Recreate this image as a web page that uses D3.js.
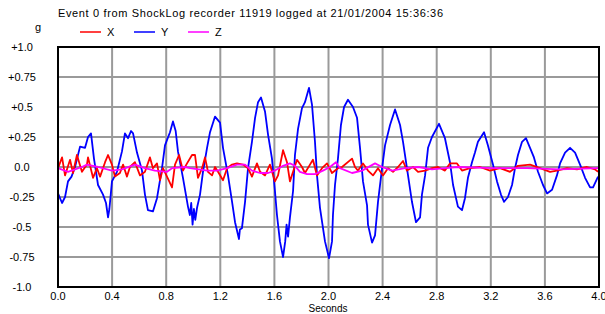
<!DOCTYPE html>
<html>
<head>
  <title>ShockLog event</title>
  <script src="https://d3js.org/d3.v7.min.js"></script>
  <style>
    body { margin: 0; background: #fff; }
    text { font-family: Arial, "Liberation Sans", sans-serif; font-size: 11px; fill: #000; }
  </style>
</head>
<body>
  <svg width="605" height="314" id="mainsvg"></svg>
  <script>
    // data (seconds, g)
    const yTimes = [0.000,0.030,0.052,0.074,0.100,0.126,0.163,0.200,0.222,0.244,0.266,0.296,0.333,0.355,0.370,0.380,0.399,0.436,0.473,0.495,0.518,0.540,0.555,0.584,0.621,0.643,0.665,0.702,0.732,0.769,0.791,0.828,0.850,0.870,0.887,0.924,0.961,0.975,0.985,0.995,1.005,1.015,1.028,1.050,1.072,1.102,1.124,1.161,1.198,1.220,1.257,1.287,1.309,1.338,1.345,1.360,1.383,1.405,1.434,1.457,1.479,1.501,1.531,1.553,1.582,1.604,1.619,1.641,1.664,1.680,1.690,1.701,1.715,1.738,1.752,1.775,1.804,1.826,1.856,1.878,1.900,1.915,1.937,1.974,2.004,2.026,2.033,2.048,2.070,2.092,2.115,2.144,2.181,2.211,2.233,2.255,2.285,2.292,2.322,2.344,2.366,2.396,2.418,2.455,2.492,2.529,2.551,2.588,2.617,2.647,2.677,2.691,2.714,2.736,2.765,2.817,2.861,2.898,2.921,2.957,2.987,3.009,3.031,3.061,3.083,3.105,3.150,3.179,3.216,3.246,3.275,3.298,3.327,3.357,3.379,3.401,3.431,3.460,3.490,3.519,3.549,3.586,3.616,3.653,3.689,3.712,3.749,3.786,3.823,3.860,3.897,3.934,3.956,3.993];
    const yValues = [-0.22,-0.30,-0.25,-0.12,-0.08,0.00,0.17,0.16,0.25,0.28,0.07,-0.15,-0.23,-0.30,-0.42,-0.35,-0.12,-0.04,0.13,0.28,0.24,0.30,0.28,0.12,-0.03,-0.23,-0.36,-0.37,-0.26,-0.01,0.18,0.29,0.38,0.30,0.13,-0.09,-0.33,-0.40,-0.30,-0.48,-0.35,-0.44,-0.34,-0.23,-0.04,0.16,0.29,0.42,0.37,0.16,-0.07,-0.29,-0.46,-0.60,-0.52,-0.51,-0.29,-0.01,0.21,0.41,0.54,0.58,0.46,0.27,0.07,-0.20,-0.40,-0.62,-0.75,-0.62,-0.48,-0.58,-0.42,-0.20,0.10,0.32,0.49,0.54,0.66,0.52,0.21,-0.07,-0.34,-0.62,-0.76,-0.62,-0.40,-0.15,0.07,0.35,0.50,0.56,0.50,0.41,0.16,-0.12,-0.32,-0.48,-0.63,-0.57,-0.29,-0.01,0.18,0.35,0.48,0.35,0.21,-0.07,-0.29,-0.46,-0.42,-0.23,-0.07,0.16,0.25,0.36,0.24,0.04,-0.15,-0.33,-0.36,-0.26,-0.09,0.04,0.12,0.21,0.29,0.18,0.02,-0.12,-0.23,-0.29,-0.25,-0.15,-0.01,0.10,0.21,0.24,0.16,0.08,-0.04,-0.15,-0.22,-0.19,-0.07,0.03,0.12,0.16,0.12,0.02,-0.09,-0.17,-0.17,-0.08];

    const xTimes = [0.000,0.030,0.052,0.089,0.111,0.140,0.177,0.214,0.222,0.259,0.288,0.311,0.348,0.370,0.399,0.421,0.458,0.481,0.510,0.532,0.569,0.606,0.643,0.680,0.702,0.732,0.754,0.776,0.806,0.843,0.865,0.895,0.924,0.954,0.991,1.013,1.035,1.065,1.087,1.109,1.139,1.161,1.183,1.220,1.250,1.287,1.323,1.368,1.405,1.434,1.471,1.494,1.531,1.567,1.604,1.627,1.664,1.693,1.715,1.738,1.767,1.804,1.826,1.863,1.885,1.915,1.952,1.989,2.026,2.070,2.100,2.174,2.196,2.218,2.255,2.292,2.329,2.366,2.403,2.440,2.477,2.514,2.551,2.580,2.625,2.662,2.714,2.765,2.810,2.861,2.898,2.950,2.987,3.046,3.120,3.194,3.268,3.342,3.401,3.490,3.564,3.638,3.689,3.763,3.837,3.911,3.970,3.993];
    const xValues = [-0.01,0.08,-0.07,0.06,-0.05,0.10,-0.04,0.02,0.08,-0.09,-0.01,-0.08,0.04,0.10,0.02,-0.08,-0.05,0.02,-0.08,0.00,0.04,-0.07,-0.04,0.08,-0.01,0.03,-0.11,-0.01,-0.08,-0.17,0.02,0.10,-0.03,0.03,0.10,0.10,-0.09,-0.01,0.08,-0.04,-0.07,0.00,-0.04,-0.11,-0.01,0.02,0.03,0.02,-0.01,-0.08,0.03,-0.04,-0.07,0.02,-0.12,-0.07,0.14,0.04,-0.12,-0.04,0.06,0.00,-0.05,0.02,0.06,-0.07,-0.01,0.03,-0.05,-0.01,0.00,0.07,0.00,-0.03,0.03,-0.03,-0.07,-0.01,-0.07,-0.01,-0.04,0.00,0.05,-0.03,0.00,-0.04,-0.03,-0.01,0.00,-0.03,0.03,0.03,-0.03,-0.01,0.00,-0.03,-0.01,-0.04,0.01,0.02,-0.01,-0.04,-0.03,-0.01,-0.02,0.00,-0.02,-0.04];

    const zTimes = [0.000,0.074,0.177,0.214,0.296,0.399,0.473,0.569,0.643,0.717,0.806,0.843,0.939,0.976,1.102,1.176,1.250,1.323,1.383,1.434,1.494,1.553,1.604,1.664,1.715,1.752,1.789,1.841,1.900,1.959,2.011,2.055,2.085,2.174,2.248,2.344,2.396,2.470,2.566,2.662,2.765,2.861,2.957,3.216,3.468,3.712,3.993];
    const zValues = [-0.01,-0.04,0.00,0.02,0.00,-0.03,-0.02,0.02,-0.01,-0.03,-0.04,-0.01,0.00,-0.01,-0.03,-0.03,-0.01,0.02,0.02,-0.03,-0.05,-0.05,-0.03,0.01,0.03,0.01,-0.04,-0.06,-0.06,-0.03,0.00,0.04,-0.01,-0.05,-0.03,0.03,0.00,-0.03,-0.01,0.00,-0.02,-0.01,0.00,-0.01,-0.01,-0.02,-0.01];

    const seriesNames = ['X', 'Y', 'Z'];
    const seriesColors = ['#ff0000', '#0000ff', '#ff00ff'];
    const yTickValues = [1, 0.75, 0.5, 0.25, 0, -0.25, -0.5, -0.75, -1];
    const yTickLabels = ['+1.0', '+0.75', '+0.5', '+0.25', '0.0', '-0.25', '-0.5', '-0.75', '-1.0'];
    const xTickValues = [0, 0.4, 0.8, 1.2, 1.6, 2.0, 2.4, 2.8, 3.2, 3.6, 4.0];
    const xTickLabels = ['0.0', '0.4', '0.8', '1.2', '1.6', '2.0', '2.4', '2.8', '3.2', '3.6', '4.0'];

    let svg = d3.select('#mainsvg');
    const plotL = 58, plotR = 599, plotT = 47, plotB = 287;

    const x = d3.scaleLinear().domain([0, 4]).range([plotL, plotR]);
    const y = d3.scaleLinear().domain([-1, 1]).range([plotB, plotT]);

    // grid
    svg.append('g').selectAll('line').data(xTickValues.slice(1, -1))
      .enter().append('line')
      .attr('x1', d => x(d)).attr('x2', d => x(d))
      .attr('y1', plotT).attr('y2', plotB)
      .attr('stroke', '#9a9a9a').attr('stroke-width', 2);
    svg.append('g').selectAll('line').data(yTickValues.slice(1, -1))
      .enter().append('line')
      .attr('x1', plotL).attr('x2', plotR)
      .attr('y1', d => y(d)).attr('y2', d => y(d))
      .attr('stroke', '#9a9a9a').attr('stroke-width', 2);

    // series
    const line = d3.line().x(d => x(d[0])).y(d => y(d[1]));
    const zip = (ts, vs) => ts.map((t, i) => [t, vs[i]]);
    const series = [
      { data: zip(yTimes, yValues), color: seriesColors[1] },
      { data: zip(xTimes, xValues), color: seriesColors[0] },
      { data: zip(zTimes, zValues), color: seriesColors[2] }
    ];
    svg.append('g').selectAll('path').data(series)
      .enter().append('path')
      .attr('d', d => line(d.data))
      .attr('fill', 'none')
      .attr('stroke', d => d.color)
      .attr('stroke-width', 1.8)
      .attr('stroke-linejoin', 'round');

    // frame
    svg.append('rect')
      .attr('x', plotL).attr('y', plotT)
      .attr('width', plotR - plotL).attr('height', plotB - plotT)
      .attr('fill', 'none').attr('stroke', '#000').attr('stroke-width', 2);

    // tick labels
    svg.append('g').selectAll('text').data(yTickValues)
      .enter().append('text')
      .attr('x', 22).attr('y', d => y(d) + 4)
      .attr('text-anchor', 'middle')
      .text((d, i) => yTickLabels[i]);
    svg.append('g').selectAll('text').data(xTickValues)
      .enter().append('text')
      .attr('x', d => x(d)).attr('y', 300)
      .attr('text-anchor', 'middle')
      .text((d, i) => xTickLabels[i]);

    svg.append('text').attr('x', 328).attr('y', 312)
      .attr('text-anchor', 'middle').style('font-size', '10px').text('Seconds');
    svg.append('text').attr('x', 35).attr('y', 31).text('g');
    svg.append('text').attr('x', 58).attr('y', 17)
      .attr('textLength', 385).attr('lengthAdjust', 'spacing')
      .text('Event 0 from ShockLog recorder 11919 logged at 21/01/2004 15:36:36');

    // legend
    const legend = svg.append('g').selectAll('g').data(seriesNames)
      .enter().append('g')
      .attr('transform', (d, i) => `translate(${80 + i * 54},32)`);
    legend.append('line')
      .attr('x1', 0).attr('x2', 21).attr('y1', 0).attr('y2', 0)
      .attr('stroke', (d, i) => seriesColors[i]).attr('stroke-width', 1.5);
    legend.append('text').attr('x', 27).attr('y', 4).text(d => d);
  </script>
</body>
</html>
